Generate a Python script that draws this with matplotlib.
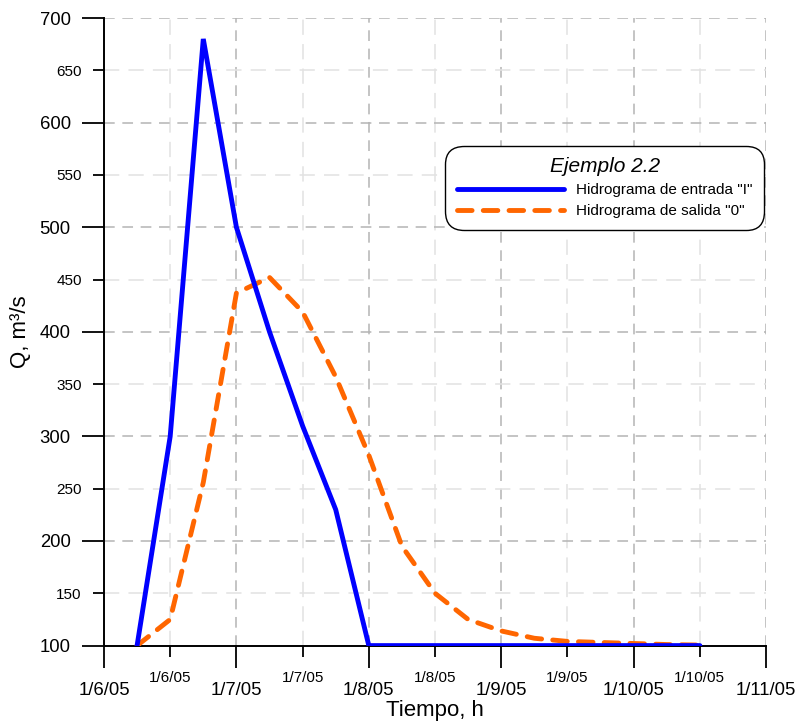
import matplotlib.pyplot as plt
import numpy as np

plt.rcParams['font.family'] = ['Liberation Sans', 'DejaVu Sans']

# tiempo (posicion en el eje) y caudales
t = [0.5, 1, 1.5, 2, 2.5, 3, 3.5, 4, 4.5, 5, 5.5, 6, 6.5, 7, 7.5, 8, 8.5, 9]
q_entrada = [100, 300, 680, 500, 400, 310, 230, 100, 100, 100, 100, 100, 100, 100, 100, 100, 100, 100]
q_salida = [100, 125, 256, 437, 452, 419, 357, 282, 195, 150, 125, 114, 107, 104, 103, 102, 101, 100.5]

x_major = [0, 2, 4, 6, 8, 10]
x_major_labels = ['1/6/05', '1/7/05', '1/8/05', '1/9/05', '1/10/05', '1/11/05']
x_minor = [1, 3, 5, 7, 9]
x_minor_labels = ['1/6/05', '1/7/05', '1/8/05', '1/9/05', '1/10/05']
y_major = [100, 200, 300, 400, 500, 600, 700]
y_minor = [150, 250, 350, 450, 550, 650]

fig = plt.figure(figsize=(7.98, 7.21), dpi=100)
ax = fig.add_axes([0.1303, 0.1046, 0.8297, 0.8704])

ax.plot(t, q_entrada, color='#0000ff', lw=3.5, solid_capstyle='round', solid_joinstyle='miter',
        label='Hidrograma de entrada "I"', zorder=4)
ax.plot(t, q_salida, color='#ff6600', lw=3.5, linestyle=(0, (3.0, 2.3)), dash_capstyle='round',
        label='Hidrograma de salida "0"', zorder=3)

ax.set_xlim(0, 10)
ax.set_ylim(100, 700)

ax.set_xticks(x_major)
ax.set_xticklabels(x_major_labels, fontsize=13.3)
ax.set_xticks(x_minor, minor=True)
ax.set_xticklabels(x_minor_labels, minor=True, fontsize=11)
ax.set_yticks(y_major)
ax.set_yticklabels([str(v) for v in y_major], fontsize=13.3)
ax.set_yticks(y_minor, minor=True)
ax.set_yticklabels([str(v) for v in y_minor], minor=True, fontsize=11)

ax.tick_params(which='major', length=16, width=1.3, direction='out', color='black')
ax.tick_params(which='minor', length=8, width=1.3, direction='out', color='black')
ax.tick_params(axis='x', which='both', pad=10)
ax.tick_params(axis='y', which='both', pad=8)

ax.grid(which='major', color='#b4b4b4', linestyle=(0, (7, 5)), lw=1.1)
ax.grid(which='minor', color='#e2e2e2', linestyle=(0, (10, 6)), lw=1.1)
ax.set_axisbelow(True)

for s in ['top', 'right']:
    ax.spines[s].set_visible(False)
for s in ['left', 'bottom']:
    ax.spines[s].set_linewidth(1.4)

ax.set_xlabel('Tiempo, h', fontsize=16, labelpad=1)
ax.set_ylabel('Q, m³/s', fontsize=16, labelpad=6)

leg = ax.legend(loc='upper right', bbox_to_anchor=(764 / 798, 1 - 146 / 721),
                bbox_transform=fig.transFigure, fontsize=11, handlelength=7,
                title='Ejemplo 2.2', title_fontproperties={'size': 15, 'style': 'italic'},
                frameon=True, fancybox=True, framealpha=1, borderpad=0.75,
                labelspacing=0.45, handletextpad=0.8, borderaxespad=0)
leg.get_frame().set_edgecolor('black')
leg.get_frame().set_linewidth(1.0)
leg.get_frame().set_boxstyle('round', pad=0, rounding_size=1.2)

fig.savefig('out.png', dpi=100)
